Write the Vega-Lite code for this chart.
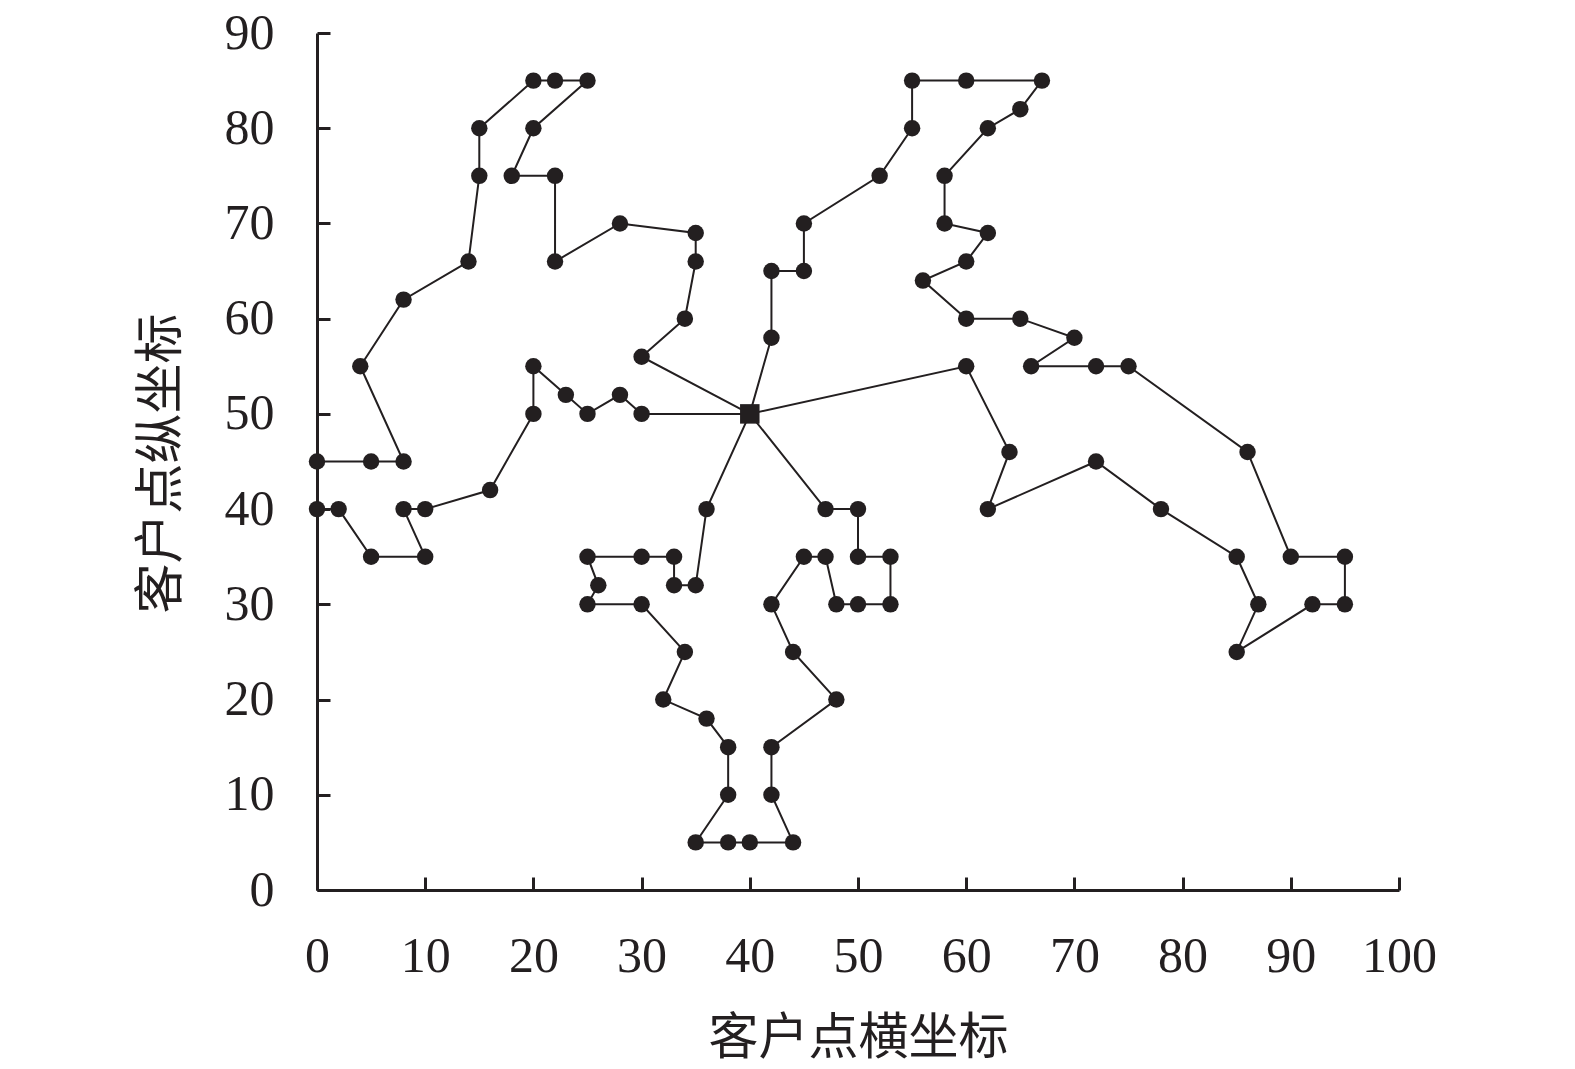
{
  "$schema": "https://vega.github.io/schema/vega-lite/v6.json",
  "width": 1082,
  "height": 857,
  "autosize": {"type": "none"},
  "padding": {"left": 317, "top": 33, "right": 176, "bottom": 179},
  "background": "white",
  "config": {
    "view": {"stroke": null},
    "axis": {
      "domainColor": "#231f20",
      "domainWidth": 3,
      "tickColor": "#231f20",
      "tickWidth": 3,
      "tickSize": -13,
      "grid": false,
      "labelFlush": false,
      "labelOverlap": false,
      "labelBound": false,
      "labelFont": "Liberation Serif",
      "labelFontSize": 50,
      "labelColor": "#231f20",
      "titleFont": "Noto Sans CJK SC",
      "titleFontSize": 50,
      "titleFontWeight": "normal",
      "titleColor": "#231f20"
    }
  },
  "data": {
    "values": [
      {"r":1,"o":0,"x":40,"y":50},{"r":1,"o":1,"x":30,"y":56},{"r":1,"o":2,"x":34,"y":60},{"r":1,"o":3,"x":35,"y":66},{"r":1,"o":4,"x":35,"y":69},{"r":1,"o":5,"x":28,"y":70},{"r":1,"o":6,"x":22,"y":66},{"r":1,"o":7,"x":22,"y":75},{"r":1,"o":8,"x":18,"y":75},{"r":1,"o":9,"x":20,"y":80},{"r":1,"o":10,"x":25,"y":85},{"r":1,"o":11,"x":22,"y":85},{"r":1,"o":12,"x":20,"y":85},{"r":1,"o":13,"x":15,"y":80},{"r":1,"o":14,"x":15,"y":75},{"r":1,"o":15,"x":14,"y":66},{"r":1,"o":16,"x":8,"y":62},{"r":1,"o":17,"x":4,"y":55},{"r":1,"o":18,"x":8,"y":45},{"r":1,"o":19,"x":5,"y":45},{"r":1,"o":20,"x":0,"y":45},{"r":1,"o":21,"x":0,"y":40},{"r":1,"o":22,"x":2,"y":40},{"r":1,"o":23,"x":5,"y":35},{"r":1,"o":24,"x":10,"y":35},{"r":1,"o":25,"x":8,"y":40},{"r":1,"o":26,"x":10,"y":40},{"r":1,"o":27,"x":16,"y":42},{"r":1,"o":28,"x":20,"y":50},{"r":1,"o":29,"x":20,"y":55},{"r":1,"o":30,"x":23,"y":52},{"r":1,"o":31,"x":25,"y":50},{"r":1,"o":32,"x":28,"y":52},{"r":1,"o":33,"x":30,"y":50},{"r":1,"o":34,"x":40,"y":50},
      {"r":2,"o":0,"x":40,"y":50},{"r":2,"o":1,"x":42,"y":58},{"r":2,"o":2,"x":42,"y":65},{"r":2,"o":3,"x":45,"y":65},{"r":2,"o":4,"x":45,"y":70},{"r":2,"o":5,"x":52,"y":75},{"r":2,"o":6,"x":55,"y":80},{"r":2,"o":7,"x":55,"y":85},{"r":2,"o":8,"x":60,"y":85},{"r":2,"o":9,"x":67,"y":85},{"r":2,"o":10,"x":65,"y":82},{"r":2,"o":11,"x":62,"y":80},{"r":2,"o":12,"x":58,"y":75},{"r":2,"o":13,"x":58,"y":70},{"r":2,"o":14,"x":62,"y":69},{"r":2,"o":15,"x":60,"y":66},{"r":2,"o":16,"x":56,"y":64},{"r":2,"o":17,"x":60,"y":60},{"r":2,"o":18,"x":65,"y":60},{"r":2,"o":19,"x":70,"y":58},{"r":2,"o":20,"x":66,"y":55},{"r":2,"o":21,"x":72,"y":55},{"r":2,"o":22,"x":75,"y":55},{"r":2,"o":23,"x":86,"y":46},{"r":2,"o":24,"x":90,"y":35},{"r":2,"o":25,"x":95,"y":35},{"r":2,"o":26,"x":95,"y":30},{"r":2,"o":27,"x":92,"y":30},{"r":2,"o":28,"x":85,"y":25},{"r":2,"o":29,"x":87,"y":30},{"r":2,"o":30,"x":85,"y":35},{"r":2,"o":31,"x":78,"y":40},{"r":2,"o":32,"x":72,"y":45},{"r":2,"o":33,"x":62,"y":40},{"r":2,"o":34,"x":64,"y":46},{"r":2,"o":35,"x":60,"y":55},{"r":2,"o":36,"x":40,"y":50},
      {"r":3,"o":0,"x":40,"y":50},{"r":3,"o":1,"x":36,"y":40},{"r":3,"o":2,"x":35,"y":32},{"r":3,"o":3,"x":33,"y":32},{"r":3,"o":4,"x":33,"y":35},{"r":3,"o":5,"x":30,"y":35},{"r":3,"o":6,"x":25,"y":35},{"r":3,"o":7,"x":26,"y":32},{"r":3,"o":8,"x":25,"y":30},{"r":3,"o":9,"x":30,"y":30},{"r":3,"o":10,"x":34,"y":25},{"r":3,"o":11,"x":32,"y":20},{"r":3,"o":12,"x":36,"y":18},{"r":3,"o":13,"x":38,"y":15},{"r":3,"o":14,"x":38,"y":10},{"r":3,"o":15,"x":35,"y":5},{"r":3,"o":16,"x":38,"y":5},{"r":3,"o":17,"x":40,"y":5},{"r":3,"o":18,"x":44,"y":5},{"r":3,"o":19,"x":42,"y":10},{"r":3,"o":20,"x":42,"y":15},{"r":3,"o":21,"x":48,"y":20},{"r":3,"o":22,"x":44,"y":25},{"r":3,"o":23,"x":42,"y":30},{"r":3,"o":24,"x":45,"y":35},{"r":3,"o":25,"x":47,"y":35},{"r":3,"o":26,"x":48,"y":30},{"r":3,"o":27,"x":50,"y":30},{"r":3,"o":28,"x":53,"y":30},{"r":3,"o":29,"x":53,"y":35},{"r":3,"o":30,"x":50,"y":35},{"r":3,"o":31,"x":50,"y":40},{"r":3,"o":32,"x":47,"y":40},{"r":3,"o":33,"x":40,"y":50}
    ]
  },
  "encoding": {
    "x": {
      "field": "x", "type": "quantitative",
      "scale": {"domain": [0, 100], "nice": false, "zero": false},
      "axis": {"values": [0,10,20,30,40,50,60,70,80,90,100], "labelPadding": 54, "title": "客户点横坐标", "titleY": 148, "titleBaseline": "middle", "titleAlign": "center", "titleX": 541}
    },
    "y": {
      "field": "y", "type": "quantitative",
      "scale": {"domain": [0, 90], "nice": false, "zero": false},
      "axis": {"values": [0,10,20,30,40,50,60,70,80,90], "labelPadding": 56, "title": "客户点纵坐标", "titleX": -156, "titleY": 430, "titleBaseline": "middle", "titleAlign": "center", "titleAngle": -90}
    }
  },
  "layer": [
    {
      "mark": {"type": "line", "color": "#231f20", "strokeWidth": 2, "clip": false},
      "encoding": {"detail": {"field": "r"}, "order": {"field": "o"}}
    },
    {
      "transform": [{"filter": "!(datum.x == 40 && datum.y == 50)"}],
      "mark": {"type": "point", "shape": "circle", "filled": true, "color": "#231f20", "opacity": 1, "size": 270}
    },
    {
      "transform": [{"filter": "datum.x == 40 && datum.y == 50 && datum.o == 0 && datum.r == 1"}],
      "mark": {"type": "point", "shape": "square", "filled": true, "color": "#231f20", "opacity": 1, "size": 380}
    }
  ]
}
